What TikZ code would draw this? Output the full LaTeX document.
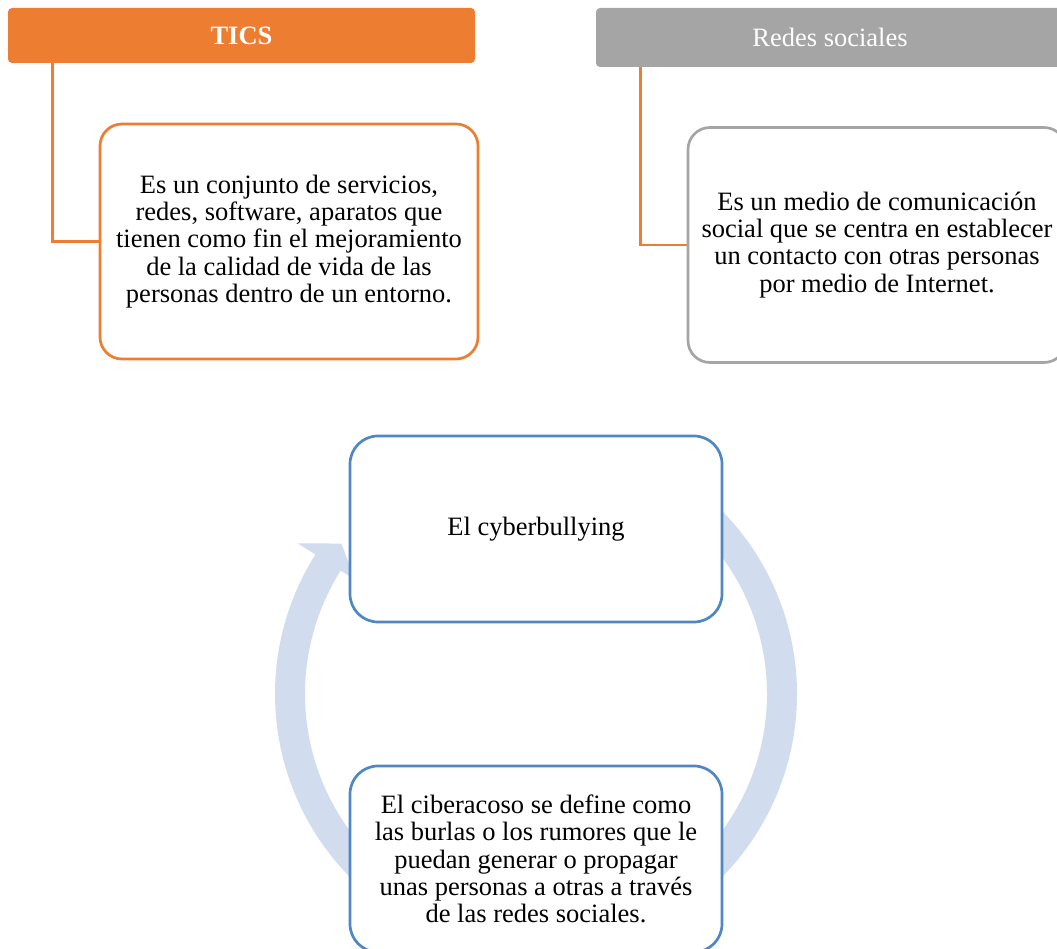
\documentclass[tikz,border=0pt]{standalone}
\usepackage{fontspec}
\setmainfont{Liberation Serif}
\usetikzlibrary{positioning,calc}
\definecolor{ticsorange}{HTML}{ED7D31}
\definecolor{redesgray}{HTML}{A5A5A5}
\definecolor{cycleblue}{HTML}{4F87C5}
\definecolor{ringblue}{HTML}{D1DDEF}

\begin{document}
\begin{tikzpicture}[
    x=1pt, y=1pt,
    txt/.style={font=\fontsize{26.5}{27.2}\selectfont, align=center},
    head/.style={txt, rectangle, rounded corners=4pt, inner sep=0pt, minimum width=467pt, text=white},
    defbox/.style={txt, draw, line width=2.7pt, rounded corners=22pt, fill=white, inner sep=0pt, minimum width=378pt, minimum height=235pt},
    cycbox/.style={txt, draw=cycleblue, line width=2.7pt, rounded corners=28pt, fill=white, inner sep=0pt, minimum width=372pt, minimum height=186pt},
    link/.style={ticsorange, line width=2.8pt},
    ring/.style={fill=ringblue}
  ]
  \useasboundingbox[fill=white] (0,0) rectangle (1057,948);

  % two definitions
  \node[head, fill=ticsorange, minimum height=55pt, font=\fontsize{26.5}{27.2}\selectfont\bfseries] (tics) at (241.5,912.5) {TICS};
  \node[head, fill=redesgray, minimum height=59pt, minimum width=468pt] (redes) at (830,910.5) {Redes sociales};
  \node[defbox, draw=ticsorange] (ticsdef) at (289,706.5) {Es un conjunto de servicios,\\redes, software, aparatos que\\tienen como fin el mejoramiento\\de la calidad de vida de las\\personas dentro de un entorno.};
  \node[defbox, draw=redesgray] (redesdef) at (877,703) {Es un medio de comunicación\\social que se centra en establecer\\un contacto con otras personas\\por medio de Internet.};
  \coordinate (ticsdrop) at ($(tics.south west)+(45,0)$);
  \coordinate (redesdrop) at ($(redes.south west)+(45,0)$);
  \draw[link] (ticsdrop) |- (ticsdef.west);
  \draw[link] (redesdrop) |- (redesdef.west);

  % cycle
  \coordinate (ctr) at (536,254);
  \fill[ring] ($(ctr)+(230:261)$) arc[start angle=230, end angle=147.7, radius=261]
    -- ($(ctr)+(147.7:282)$) -- ($(ctr)+(142.3:246)$) -- ($(ctr)+(147.7:214)$)
    -- ($(ctr)+(147.7:231)$) arc[start angle=147.7, end angle=230, radius=231] -- cycle;
  \fill[ring] ($(ctr)+(50:261)$) arc[start angle=50, end angle=-50, radius=261]
    -- ($(ctr)+(-50:231)$) arc[start angle=-50, end angle=50, radius=231] -- cycle;
  \node[cycbox] (cyber) at ($(ctr)+(0,165)$) {El cyberbullying};
  \node[cycbox] (acoso) at ($(ctr)+(0,-165)$) {El ciberacoso se define como\\las burlas o los rumores que le\\puedan generar o propagar\\unas personas a otras a través\\de las redes sociales.};
\end{tikzpicture}
\end{document}
